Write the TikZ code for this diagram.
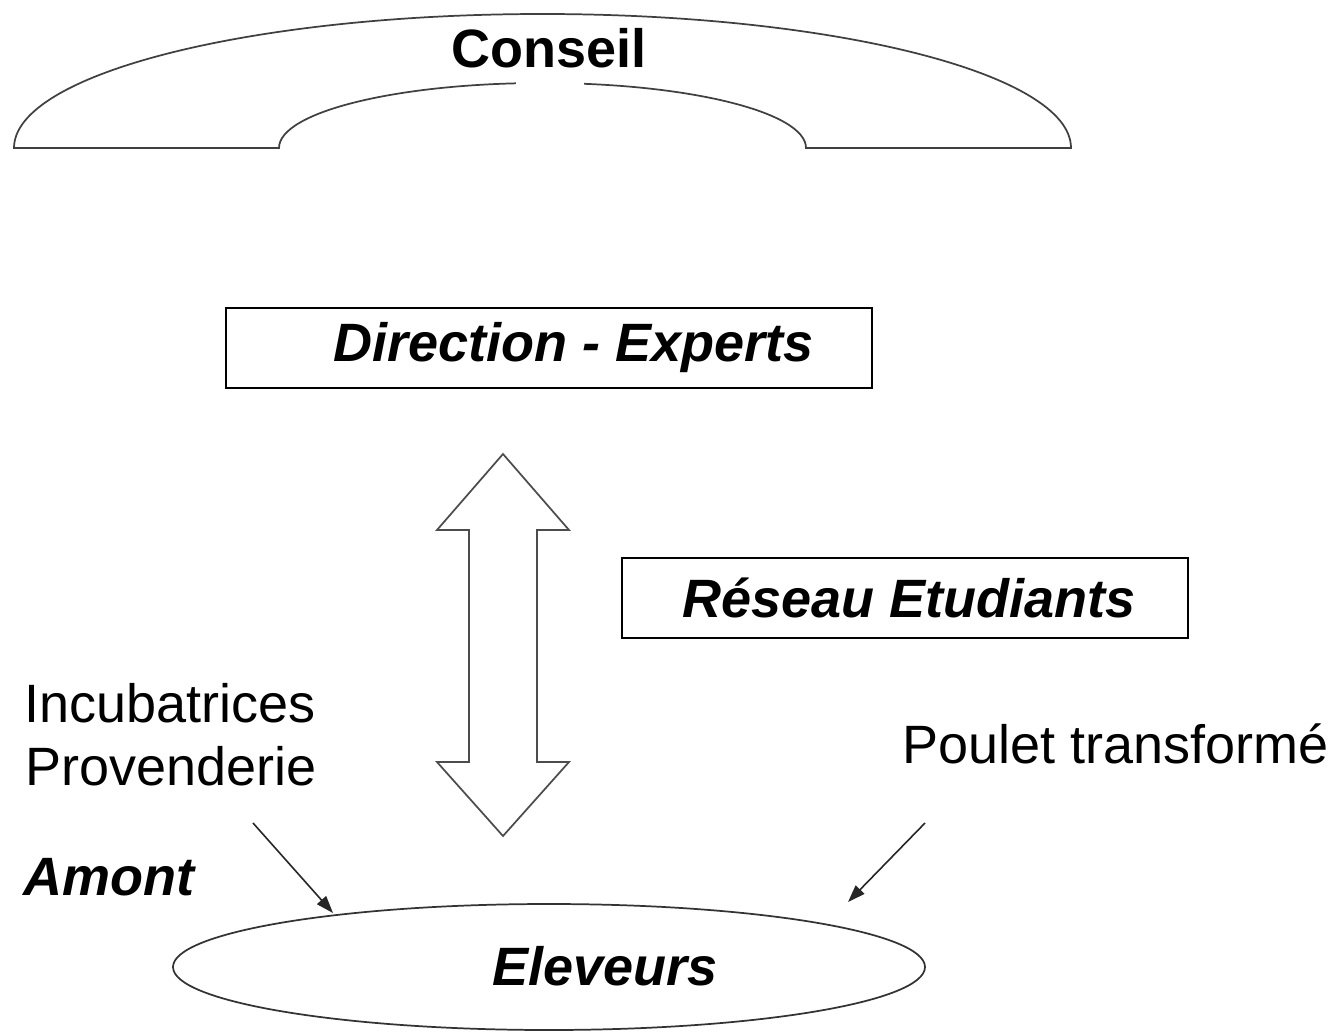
\documentclass[tikz,border=0pt]{standalone}
\usepackage{fontspec}
\setmainfont{Liberation Sans}
\usetikzlibrary{arrows.meta,shapes.geometric}
\begin{document}
\begin{tikzpicture}[x=0.75pt,y=-0.75pt,
  txt/.style={inner sep=0pt,font=\fontsize{40.5}{47}\selectfont},
  btxt/.style={txt,font=\fontsize{40.5}{47}\selectfont\bfseries\itshape},
  boxnode/.style={draw=black,line width=2.2pt,minimum height=60pt,inner sep=0pt,
    font=\fontsize{40.5}{47}\selectfont\bfseries\itshape},
  outline/.style={draw=black!75,line width=1.3pt},
  feed/.style={draw=black!85,line width=1.2pt,-{Triangle[length=13pt,width=9pt]}}]
\useasboundingbox (0,0) rectangle (1331,1035);

% Conseil: arch made of two half ellipses joined by the base segments
\draw[outline,fill=white] (14,148) arc[start angle=180,end angle=360,x radius=528.5,y radius=134]
  -- (806,148) arc[start angle=360,end angle=180,x radius=263.5,y radius=65] -- cycle;
\fill[white] (516,78) rectangle (584,90);
\node[txt,font=\fontsize{40.5}{47}\selectfont\bfseries,anchor=base] (conseil) at (549,67) {Conseil};

% Boxes
\node[boxnode,minimum width=484.5pt] (dir) at (549,348) {\hspace*{37.5pt}Direction - Experts};
\node[boxnode,minimum width=424.5pt] (reseau) at (905,598) {\hspace*{6pt}Réseau Etudiants};

% Two-headed block arrow between direction and farmers
\draw[outline,draw=black!70,line join=miter] (503,454) -- (569,530) -- (537,530) -- (537,762) -- (569,762)
  -- (503,836) -- (437,762) -- (469,762) -- (469,530) -- (437,530) -- cycle;

% Upstream and downstream labels
\node[txt,anchor=base west] (incub) at (24,722) {Incubatrices};
\node[txt,anchor=base west] (prov) at (25,785) {Provenderie};
\node[btxt,anchor=base west] (amont) at (23,895) {Amont};
\node[txt,anchor=base west] (poulet) at (902,763) {Poulet transformé};

% Eleveurs
\node[draw=black!80,line width=1.3pt,ellipse,minimum width=564pt,minimum height=94.5pt,inner sep=0pt] (elev) at (549,967) {};
\node[btxt,anchor=base] (elevtxt) at (605,985) {Eleveurs};

% Feeding arrows
\coordinate (la) at (253,823);
\coordinate (lb) at (333,913);
\coordinate (ra) at (925,823);
\coordinate (rb) at (848,902);
\draw[feed] (la) -- (lb);
\draw[feed] (ra) -- (rb);
\end{tikzpicture}
\end{document}
